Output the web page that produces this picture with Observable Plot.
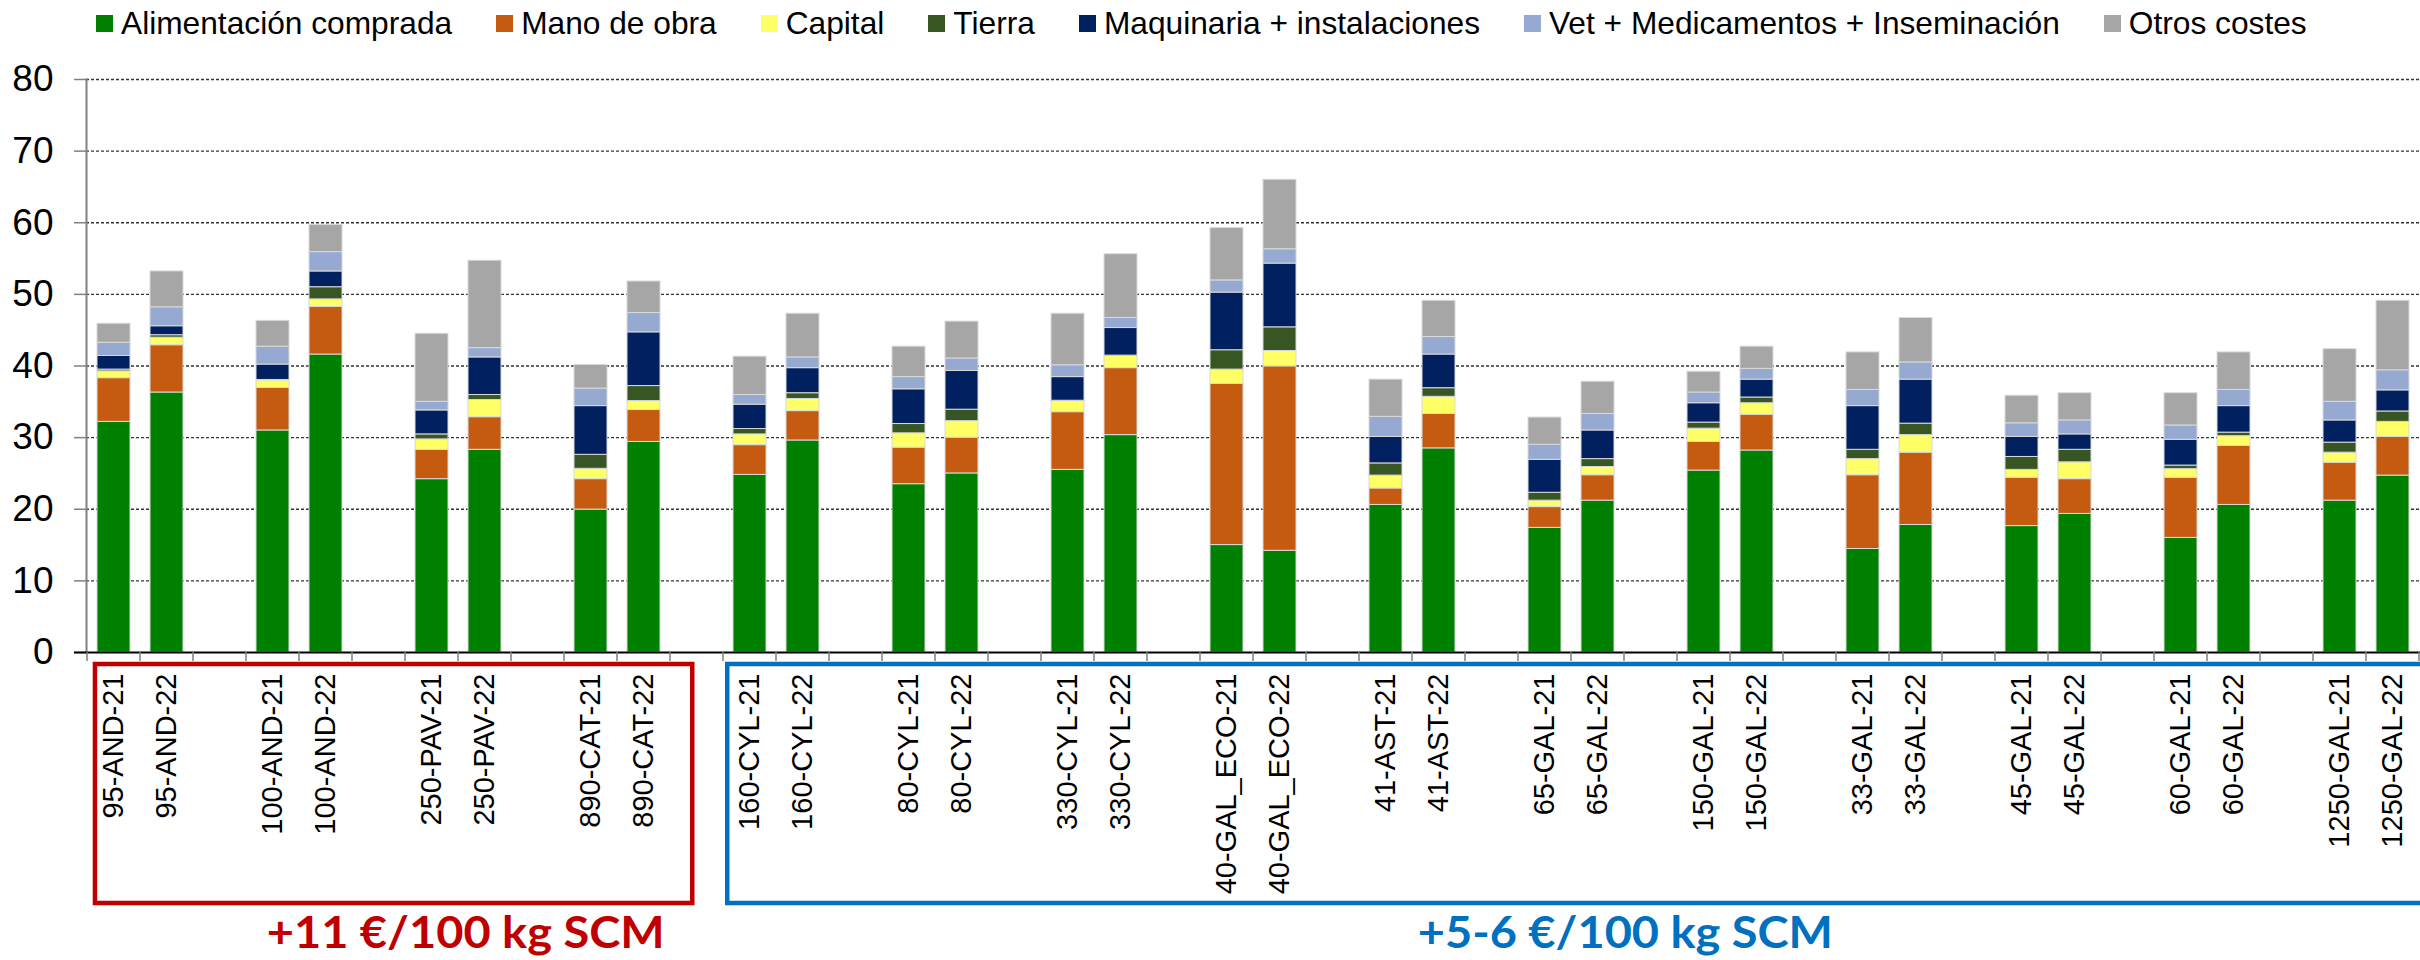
<!DOCTYPE html>
<html><head><meta charset="utf-8">
<script src="https://cdn.jsdelivr.net/npm/d3@7"></script>
<script src="https://cdn.jsdelivr.net/npm/@observablehq/plot@0.6"></script>
<style>
html,body{margin:0;padding:0;background:#fff;}
#legend{height:48px;display:flex;align-items:center;padding-left:96px;font-family:"Liberation Sans",Arial,sans-serif;font-size:31.7px;color:#000;box-sizing:border-box;}
.item{display:flex;align-items:center;margin-right:44px;white-space:nowrap;line-height:1}
.sw{width:17px;height:17px;margin-right:8px;flex:none}
#chart svg{display:block}
</style></head><body>
<div id="legend"></div>
<div id="chart"></div>
<script>
const categories = ["95-AND-21","95-AND-22","100-AND-21","100-AND-22","250-PAV-21","250-PAV-22","890-CAT-21","890-CAT-22","160-CYL-21","160-CYL-22","80-CYL-21","80-CYL-22","330-CYL-21","330-CYL-22","40-GAL_ECO-21","40-GAL_ECO-22","41-AST-21","41-AST-22","65-GAL-21","65-GAL-22","150-GAL-21","150-GAL-22","33-GAL-21","33-GAL-22","45-GAL-21","45-GAL-22","60-GAL-21","60-GAL-22","1250-GAL-21","1250-GAL-22"];
const series = ["Alimentación comprada","Mano de obra","Capital","Tierra","Maquinaria + instalaciones","Vet + Medicamentos + Inseminación","Otros costes"];
const colors = ["#008000","#C55A11","#FFFF66","#375623","#002060","#95A9D1","#A6A6A6"];
const alimentacion = [32.2,36.3,31.0,41.6,24.2,28.3,19.95,29.4,24.8,29.6,23.5,25.0,25.5,30.35,15.0,14.2,20.6,28.5,17.4,21.2,25.4,28.2,14.45,17.8,17.65,19.35,16.0,20.6,21.2,24.7];
const manoObra = [6.1,6.6,5.95,6.65,4.1,4.55,4.25,4.45,4.15,4.1,5.1,5.0,8.05,9.35,22.5,25.75,2.3,4.8,2.9,3.55,4.0,5.0,10.3,10.1,6.75,4.85,8.4,8.25,5.3,5.4];
const capital = [0.95,1.05,1.05,1.05,1.45,2.4,1.45,1.25,1.5,1.7,2.0,2.3,1.55,1.7,2.0,2.15,1.8,2.4,0.9,1.15,1.85,1.6,2.25,2.45,1.1,2.35,1.2,1.35,1.4,2.1];
const tierra = [0.25,0.35,0.05,1.7,0.7,0.7,1.95,2.1,0.75,0.8,1.3,1.6,0.05,0.05,2.7,3.3,1.7,1.2,1.1,1.1,0.85,0.8,1.3,1.6,1.8,1.75,0.5,0.5,1.4,1.45];
const maquinaria = [1.9,1.25,2.15,2.2,3.35,5.25,6.8,7.5,3.4,3.5,4.85,5.4,3.3,3.85,8.05,8.9,3.7,4.7,4.6,4.0,2.7,2.5,6.1,6.15,2.8,2.15,3.6,3.7,3.1,2.95];
const vet = [1.85,2.65,2.5,2.7,1.2,1.3,2.45,2.7,1.35,1.5,1.7,1.75,1.65,1.4,1.7,2.0,2.8,2.45,2.1,2.3,1.5,1.5,2.25,2.4,1.9,1.95,2.0,2.25,2.6,2.8];
const otros = [2.65,5.0,3.6,3.8,9.5,12.2,3.3,4.4,5.35,6.1,4.25,5.15,7.2,8.9,7.3,9.7,5.2,5.05,3.8,4.5,2.9,3.1,5.25,6.2,3.85,3.8,4.5,5.25,7.35,9.7];
const yTicks = [0,10,20,30,40,50,60,70,80];
const annotations = [
  {text: "+11 €/100 kg SCM", color: "#C00000", from: "95-AND-21", to: "890-CAT-22"},
  {text: "+5-6 €/100 kg SCM", color: "#0070C0", from: "160-CYL-21", to: "1250-GAL-22"}
];

const values = [alimentacion, manoObra, capital, tierra, maquinaria, vet, otros];

// slots: pairs separated by an empty slot
const slots = [];
categories.forEach((c, i) => {
  slots.push(c);
  if (i % 2 === 1 && i < categories.length - 1) slots.push("gap" + i);
});
const isGap = s => s.startsWith("gap");

const data = series.flatMap((s, si) => categories.map((c, ci) => ({slot: c, cost: s, value: values[si][ci]})));

// legend
const leg = d3.select("#legend");
series.forEach((s, i) => {
  const it = leg.append("div").attr("class", "item");
  it.append("div").attr("class", "sw").style("background", colors[i]);
  it.append("span").text(s);
});

const W = 2420, H = 912;
const plot = Plot.plot({
  width: W, height: H,
  marginLeft: 86, marginRight: 0, marginTop: 31, marginBottom: 308,
  style: {fontFamily: '"Liberation Sans", Arial, sans-serif', background: "white", overflow: "visible", color: "#000"},
  x: {domain: slots, padding: 0, axis: null, label: null},
  y: {domain: [0, 80], axis: null, label: null},
  color: {domain: series, range: colors},
  marks: [
    Plot.gridY(yTicks.filter(d => d > 0), {stroke: "#333", strokeOpacity: 1, strokeDasharray: "3,2", strokeWidth: 1.3}),
    Plot.barY(data, Plot.stackY({x: "slot", y: "value", fill: "cost", insetLeft: 10, insetRight: 10, stroke: "#d9d9d9", strokeWidth: 1})),
    Plot.axisY({ticks: yTicks, tickSize: 12, tickPadding: 21, fontSize: 37, stroke: "#808080", strokeWidth: 1.5, fill: "#000", label: null}),
    Plot.frame({anchor: "left", stroke: "#808080", strokeWidth: 2}),
    Plot.ruleY([0], {stroke: "#000", strokeWidth: 2, insetLeft: -12}),
    Plot.axisX({tickSize: 0, tickRotate: -90, tickPadding: 21, fontSize: 29, fill: "#000", label: null, tickFormat: d => isGap(d) ? "" : d})
  ]
});
document.getElementById("chart").appendChild(plot);

// overlays using the plot's own scales
const xs = plot.scale("x"), ys = plot.scale("y");
const bw = xs.bandwidth;
const y0 = ys.apply(0);
const svg = d3.select(plot);
const g = svg.append("g");
// category tick marks at slot boundaries
const bounds = slots.map(s => xs.apply(s)).concat([xs.apply(slots[slots.length - 1]) + bw]);
g.selectAll("line.tk").data(bounds).join("line")
  .attr("x1", d => d).attr("x2", d => d)
  .attr("y1", y0).attr("y2", y0 + 9)
  .attr("stroke", "#808080").attr("stroke-width", 1.5);

// group boxes and labels
const boxTop = y0 + 12, boxBottom = y0 + 251;
const boxSpec = [
  {l: 0.15, r: 0.42, tx: 3.39, tw: 398},
  {l: 0.08, r: 0.42, tx: 25.11, tw: 415}
];
annotations.forEach((a, i) => {
  const sp = boxSpec[i];
  const left = xs.apply(a.from) + sp.l * bw;
  const right = xs.apply(a.to) + bw + sp.r * bw;
  g.append("rect")
    .attr("x", left).attr("y", boxTop)
    .attr("width", right - left).attr("height", boxBottom - boxTop)
    .attr("fill", "none").attr("stroke", a.color).attr("stroke-width", 4.5);
  g.append("text")
    .attr("x", xs.apply(slots[0]) + sp.tx * bw)
    .attr("y", y0 + 296)
    .attr("text-anchor", "start")
    .attr("fill", a.color)
    .attr("font-family", "Lato, 'Open Sans', sans-serif")
    .attr("font-weight", "bold")
    .attr("font-size", 44)
    .attr("textLength", sp.tw)
    .attr("lengthAdjust", "spacingAndGlyphs")
    .text(a.text);
});
</script>
</body></html>
